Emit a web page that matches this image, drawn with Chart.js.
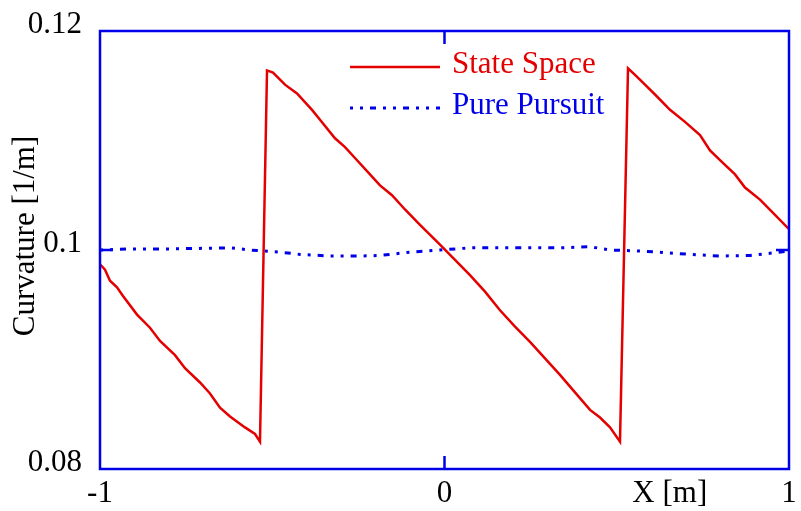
<!DOCTYPE html>
<html lang="en">
<head>
    <meta charset="UTF-8">
    <title>Curvature</title>
    <script src="https://cdn.jsdelivr.net/npm/chart.js"></script>
    <style>
        body { margin: 0; background: #fff; }
    </style>
</head>
<body>
    <canvas id="curvatureChart" width="801" height="511"></canvas>

    <script>
        // State Space (red, solid)
        const ssX = [-1.000, -0.9855, -0.971, -0.9507, -0.9332, -0.8926, -0.8549, -0.8258, -0.7823, -0.7533,
                     -0.7097, -0.6807, -0.6517, -0.6226, -0.5791, -0.5501, -0.5356,
                     -0.5152, -0.4978, -0.4630, -0.4282, -0.3846, -0.3614, -0.3179, -0.2888, -0.2598,
                     -0.2163, -0.1872, -0.1524, -0.1147, -0.0711, -0.0131, 0.0305, 0.0740, 0.1176,
                     0.1611, 0.2047, 0.2482, 0.2917, 0.3353, 0.3788, 0.4224, 0.4514, 0.4804, 0.5094,
                     0.5327, 0.5530, 0.5820, 0.6110, 0.6546, 0.6981, 0.7417, 0.7707, 0.7997, 0.8433,
                     0.8723, 0.9158, 0.9594, 1.000];
        const ssY = [0.0987, 0.0982, 0.0972, 0.0966, 0.0958, 0.0941, 0.0929, 0.0917, 0.0904, 0.0892,
                     0.0879, 0.0869, 0.0856, 0.0848, 0.0838, 0.0832, 0.0825,
                     0.1164, 0.1162, 0.1151, 0.1143, 0.1128, 0.1119, 0.1102, 0.1094, 0.1084,
                     0.1069, 0.1059, 0.1050, 0.1037, 0.1023, 0.1005, 0.0991, 0.0977, 0.0962,
                     0.0945, 0.0930, 0.0916, 0.0901, 0.0886, 0.0870, 0.0854, 0.0847, 0.0838, 0.0825,
                     0.1166, 0.1160, 0.1151, 0.1142, 0.1128, 0.1117, 0.1105, 0.1091, 0.1082, 0.1069,
                     0.1057, 0.1046, 0.1032, 0.1019];

        // Pure Pursuit (blue, dotted)
        const ppX = [-1.000, -0.9129, -0.7968, -0.6226, -0.5646, -0.4775, -0.4194, -0.3324, -0.2453, -0.1872,
                     -0.1001, -0.0131, 0.0740, 0.2192, 0.3353, 0.4224, 0.4804, 0.5675, 0.6255, 0.7126,
                     0.7997, 0.8868, 0.9448, 1.000];
        const ppY = [0.1000, 0.1001, 0.1001, 0.1002, 0.1000, 0.0998, 0.0996, 0.09945, 0.09945, 0.0995,
                     0.0998, 0.1000, 0.1002, 0.1002, 0.1002, 0.1003, 0.1000, 0.0999, 0.0998, 0.0996,
                     0.09945, 0.0995, 0.0997, 0.0999];

        const seriesNames = ['State Space', 'Pure Pursuit'];
        const xTicks = [-1, 0, 1];
        const yTicks = [0.08, 0.1, 0.12];
        const xTitle = 'X [m]';
        const yTitle = 'Curvature [1/m]';

        const red = 'rgb(228,0,0)';
        const blue = 'rgb(0,0,232)';
        const serif = '"Liberation Serif", "Times New Roman", serif';

        Chart.defaults.font.family = serif;
        Chart.defaults.font.size = 31;
        Chart.defaults.color = '#000';

        const toPoints = (xs, ys) => xs.map((x, i) => ({ x: x, y: ys[i] }));

        // frame, inward ticks, axis titles and legend
        const framePlugin = {
            id: 'frame',
            afterDatasetsDraw(chart) {
                const { ctx, chartArea: a, scales: { x, y } } = chart;
                ctx.save();
                ctx.strokeStyle = blue;
                ctx.lineWidth = 2.5;
                ctx.strokeRect(a.left, a.top, a.width, a.height);

                ctx.beginPath();
                xTicks.slice(1, -1).forEach(v => {
                    const px = x.getPixelForValue(v);
                    ctx.moveTo(px, a.top); ctx.lineTo(px, a.top + 13);
                    ctx.moveTo(px, a.bottom); ctx.lineTo(px, a.bottom - 13);
                });
                yTicks.slice(1, -1).forEach(v => {
                    const py = y.getPixelForValue(v);
                    ctx.moveTo(a.left, py); ctx.lineTo(a.left + 13, py);
                    ctx.moveTo(a.right, py); ctx.lineTo(a.right - 13, py);
                });
                ctx.stroke();

                ctx.fillStyle = '#000';
                ctx.font = '31px ' + serif;
                ctx.textAlign = 'center';
                ctx.textBaseline = 'middle';
                ctx.fillText(xTitle, a.left + a.width * 0.827, a.bottom + 25);

                ctx.save();
                ctx.translate(26, a.top + a.height / 2 - 14);
                ctx.rotate(-Math.PI / 2);
                ctx.fillText(yTitle, 0, 0);
                ctx.restore();

                // legend
                ctx.textAlign = 'left';
                ctx.textBaseline = 'alphabetic';
                chart.data.datasets.forEach((ds, i) => {
                    const ly = a.top + 36 + i * 41;
                    ctx.strokeStyle = ds.borderColor;
                    ctx.lineWidth = ds.borderWidth;
                    ctx.setLineDash(ds.borderDash || []);
                    ctx.beginPath();
                    ctx.moveTo(350, ly);
                    ctx.lineTo(440, ly);
                    ctx.stroke();
                    ctx.setLineDash([]);
                    ctx.fillStyle = ds.borderColor;
                    ctx.fillText(ds.label, 452, ly + 6);
                });
                ctx.restore();
            }
        };

        new Chart(document.getElementById('curvatureChart'), {
            type: 'line',
            data: {
                datasets: [{
                    label: seriesNames[0],
                    data: toPoints(ssX, ssY),
                    borderColor: red,
                    borderWidth: 2.5,
                    pointRadius: 0,
                    fill: false
                }, {
                    label: seriesNames[1],
                    data: toPoints(ppX, ppY),
                    borderColor: blue,
                    borderWidth: 3,
                    borderDash: [3, 7, 3, 7, 6, 7],
                    pointRadius: 0,
                    fill: false
                }]
            },
            options: {
                responsive: false,
                animation: false,
                layout: { padding: { top: 31, right: 12, left: 0, bottom: 0 } },
                plugins: { legend: { display: false }, tooltip: { enabled: false } },
                scales: {
                    x: {
                        type: 'linear',
                        min: xTicks[0],
                        max: xTicks[xTicks.length - 1],
                        grid: { display: false, drawTicks: false },
                        border: { display: false },
                        afterBuildTicks: s => { s.ticks = xTicks.map(v => ({ value: v })); },
                        ticks: { padding: 6, maxRotation: 0, callback: v => String(v) },
                        afterFit: s => { s.height = 42; s.paddingLeft = 0; s.paddingRight = 0; }
                    },
                    y: {
                        type: 'linear',
                        min: yTicks[0],
                        max: yTicks[yTicks.length - 1],
                        grid: { display: false, drawTicks: false },
                        border: { display: false },
                        afterBuildTicks: s => { s.ticks = yTicks.map(v => ({ value: v })); },
                        ticks: { padding: 18, labelOffset: -6, callback: v => String(+v.toFixed(2)) },
                        afterFit: s => { s.width = 100; s.paddingTop = 0; s.paddingBottom = 0; }
                    }
                }
            },
            plugins: [framePlugin]
        });
    </script>
</body>
</html>
